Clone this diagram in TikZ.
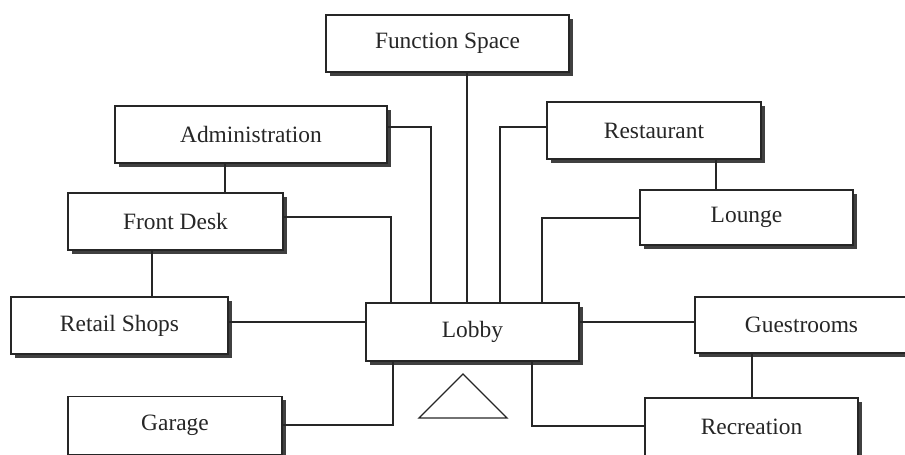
\documentclass[tikz,border=0pt]{standalone}
\usepackage{fontspec}
\setmainfont{Liberation Serif}
\usetikzlibrary{shadows}
\begin{document}
\begin{tikzpicture}[x=1bp,y=-1bp,
  box/.style={draw=black!85, line width=1.4bp, fill=white, inner sep=0pt,
    font=\fontsize{23.5}{27}\selectfont, text=black!85,
    drop shadow={shadow xshift=4bp, shadow yshift=-4bp, fill=black!75, opacity=1}},
  link/.style={draw=black!85, line width=1.3bp}]
\useasboundingbox (0,0) rectangle (905,455);
\clip (0,0) rectangle (905,455);
\node[box, minimum width=243bp, minimum height=57bp] (fs) at (447.5,43.5) {Function Space};
\node[box, minimum width=272bp, minimum height=57bp] (admin) at (251,134.5) {Administration};
\node[box, minimum width=214bp, minimum height=57bp] (rest) at (654,130.5) {Restaurant};
\node[box, minimum width=215bp, minimum height=57bp] (fd) at (175.5,221.5) {Front Desk};
\node[box, minimum width=213bp, minimum height=55bp] (lounge) at (746.5,217.5) {Lounge};
\node[box, minimum width=217bp, minimum height=57bp] (rs) at (119.5,325.5) {Retail Shops};
\node[box, minimum width=213bp, minimum height=58bp] (lobby) at (472.5,332) {Lobby};
\node[box, minimum width=213bp, minimum height=56bp] (guest) at (801.5,325) {Guestrooms};
\node[box, minimum width=214bp, minimum height=58bp] (garage) at (175,425.5) {Garage};
\node[box, minimum width=213bp, minimum height=58bp] (rec) at (751.5,427) {Recreation};
% elbow / column coordinates
\coordinate (c467) at (467,0);
\coordinate (a1) at (431,127);
\coordinate (a2) at (391,217);
\coordinate (a3) at (500,127);
\coordinate (a4) at (542,218);
\coordinate (a5) at (0,322);
\coordinate (a6) at (393,425);
\coordinate (a7) at (532,426);
\coordinate (c225) at (225,0);
\coordinate (c152) at (152,0);
\coordinate (c716) at (716,0);
\coordinate (c752) at (752,0);
% connectors
\draw[link] (fs.south -| c467) -- (lobby.north -| c467);
\draw[link] (admin.east |- a1) -| (lobby.north -| a1);
\draw[link] (fd.east |- a2) -| (lobby.north -| a2);
\draw[link] (rest.west |- a3) -| (lobby.north -| a3);
\draw[link] (lounge.west |- a4) -| (lobby.north -| a4);
\draw[link] (rs.east |- a5) -- (lobby.west |- a5);
\draw[link] (lobby.east |- a5) -- (guest.west |- a5);
\draw[link] (garage.east |- a6) -| (lobby.south -| a6);
\draw[link] (lobby.south -| a7) |- (rec.west |- a7);
\draw[link] (admin.south -| c225) -- (fd.north -| c225);
\draw[link] (fd.south -| c152) -- (rs.north -| c152);
\draw[link] (rest.south -| c716) -- (lounge.north -| c716);
\draw[link] (guest.south -| c752) -- (rec.north -| c752);
% triangle symbol
\draw[link, line join=miter] (419,418) -- (463,374) -- (507,418) -- cycle;
\end{tikzpicture}
\end{document}
